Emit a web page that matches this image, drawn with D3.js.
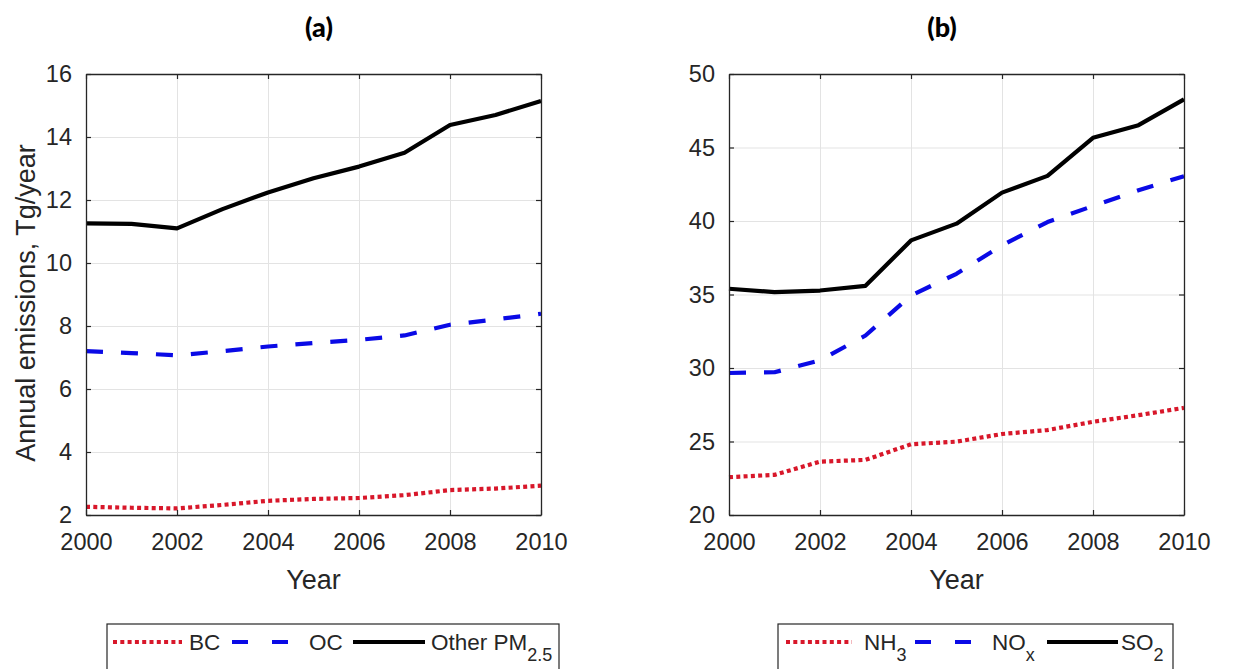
<!DOCTYPE html>
<html>
<head>
<meta charset="utf-8">
<script src="https://cdn.jsdelivr.net/npm/d3@7"></script>
<style>
  html, body { margin: 0; padding: 0; background: #fff; }
  svg { display: block; }
  text { font-family: "Liberation Sans", Arial, sans-serif; fill: #262626; }
</style>
</head>
<body>
<svg id="chart" width="1251" height="669"></svg>
<script>
// Annual emissions by year, 2000–2010
const years = [2000, 2001, 2002, 2003, 2004, 2005, 2006, 2007, 2008, 2009, 2010];

// Panel (a): particulate species, Tg/year
const bc      = [2.26, 2.23, 2.21, 2.32, 2.45, 2.51, 2.54, 2.63, 2.79, 2.84, 2.93];
const oc      = [7.20, 7.14, 7.07, 7.20, 7.35, 7.46, 7.56, 7.70, 8.04, 8.21, 8.39];
const otherPM = [11.26, 11.24, 11.10, 11.71, 12.24, 12.69, 13.06, 13.50, 14.38, 14.70, 15.14];

// Panel (b): gaseous precursors, Tg/year
const nh3 = [22.57, 22.73, 23.63, 23.75, 24.81, 24.99, 25.51, 25.78, 26.34, 26.79, 27.29];
const nox = [29.66, 29.71, 30.52, 32.21, 34.93, 36.41, 38.34, 39.93, 41.02, 42.09, 43.05];
const so2 = [35.39, 35.16, 35.27, 35.59, 38.68, 39.82, 41.93, 43.07, 45.66, 46.52, 48.27];

// Tick values
const xTicks  = [2000, 2002, 2004, 2006, 2008, 2010];
const yTicksA = [2, 4, 6, 8, 10, 12, 14, 16];
const yTicksB = [20, 25, 30, 35, 40, 45, 50];

const RED = "#d8172a", BLUE = "#0a0ae6", BLACK = "#000000";
const styles = {
  dotted: { color: RED,   width: 4.2, dash: "4,3.3" },
  dashed: { color: BLUE,  width: 4.2, dash: "17,18" },
  solid:  { color: BLACK, width: 4.2, dash: null }
};

const svg = d3.select("#chart");

function panel(cfg) {
  const { left, right, top, bottom } = cfg;
  const x = d3.scaleLinear().domain([2000, 2010]).range([left, right]);
  const y = d3.scaleLinear().domain(cfg.yDomain).range([bottom, top]);
  const g = svg.append("g");

  // grid
  g.append("g").attr("transform", `translate(0,${bottom})`)
    .call(d3.axisBottom(x).tickValues(xTicks).tickSize(-(bottom - top)).tickFormat(""))
    .call(a => a.select(".domain").remove())
    .call(a => a.selectAll("line").attr("stroke", "#e3e3e3").attr("stroke-width", 1));
  g.append("g").attr("transform", `translate(${left},0)`)
    .call(d3.axisLeft(y).tickValues(cfg.yTicks).tickSize(-(right - left)).tickFormat(""))
    .call(a => a.select(".domain").remove())
    .call(a => a.selectAll("line").attr("stroke", "#e3e3e3").attr("stroke-width", 1));

  // series
  cfg.series.forEach(s => {
    const st = styles[s.style];
    const line = d3.line().x((d, i) => x(years[i])).y(d => y(d));
    g.append("path").datum(s.values)
      .attr("d", line)
      .attr("fill", "none")
      .attr("stroke", st.color)
      .attr("stroke-width", st.width)
      .attr("stroke-linejoin", "round")
      .attr("stroke-dasharray", st.dash);
  });

  // box axes with inward ticks
  const axisStyle = a => {
    a.select(".domain").attr("stroke", "#262626").attr("stroke-width", 1.3);
    a.selectAll(".tick line").attr("stroke", "#262626").attr("stroke-width", 1.2);
  };
  g.append("g").attr("transform", `translate(0,${bottom})`)
    .call(d3.axisBottom(x).tickValues(xTicks).tickSizeInner(-5).tickSizeOuter(0).tickPadding(18).tickFormat(d3.format("d")))
    .call(axisStyle)
    .call(a => a.selectAll("text").attr("font-size", 23.5));
  g.append("g").attr("transform", `translate(0,${top})`)
    .call(d3.axisTop(x).tickValues(xTicks).tickSizeInner(-5).tickSizeOuter(0).tickFormat(""))
    .call(axisStyle);
  g.append("g").attr("transform", `translate(${left},0)`)
    .call(d3.axisLeft(y).tickValues(cfg.yTicks).tickSizeInner(-5).tickSizeOuter(0).tickPadding(14).tickFormat(d3.format("d")))
    .call(axisStyle)
    .call(a => a.selectAll("text").attr("font-size", 23.5));
  g.append("g").attr("transform", `translate(${right},0)`)
    .call(d3.axisRight(y).tickValues(cfg.yTicks).tickSizeInner(-5).tickSizeOuter(0).tickFormat(""))
    .call(axisStyle);

  // x label
  g.append("text").attr("x", (left + right) / 2).attr("y", 589)
    .attr("text-anchor", "middle").attr("font-size", 27).text("Year");

  // panel title
  g.append("text").attr("x", cfg.titleX).attr("y", 37)
    .attr("text-anchor", "middle")
    .style("font-family", "Lato, 'Open Sans', sans-serif")
    .style("font-weight", "900").style("font-size", "27px").style("fill", "#000")
    .text(cfg.title);

  // legend
  const L = cfg.legend;
  const lg = g.append("g");
  lg.append("rect").attr("x", L.x0).attr("y", 624).attr("width", L.x1 - L.x0).attr("height", 80)
    .attr("fill", "#fff").attr("stroke", "#262626").attr("stroke-width", 1.2);
  L.items.forEach((it, i) => {
    const st = styles[cfg.series[i].style];
    lg.append("line").attr("x1", it.l0).attr("x2", it.l1).attr("y1", 642).attr("y2", 642)
      .attr("stroke", st.color).attr("stroke-width", st.width)
      .attr("stroke-dasharray", cfg.series[i].style === "dashed" ? "16,24" : st.dash);
    const t = lg.append("text").attr("x", it.tx).attr("y", 650).attr("font-size", 22.5);
    t.append("tspan").text(it.label);
    if (it.sub) t.append("tspan").attr("dy", 11).attr("font-size", 18).text(it.sub);
  });
}

panel({
  left: 86, right: 541, top: 74, bottom: 515,
  yDomain: [2, 16], yTicks: yTicksA,
  title: "(a)", titleX: 319,
  series: [
    { values: bc, style: "dotted" },
    { values: oc, style: "dashed" },
    { values: otherPM, style: "solid" }
  ],
  legend: {
    x0: 107, x1: 559,
    items: [
      { l0: 113, l1: 182, tx: 189, label: "BC" },
      { l0: 232, l1: 290, tx: 309, label: "OC" },
      { l0: 353, l1: 425, tx: 431, label: "Other PM", sub: "2.5" }
    ]
  }
});

panel({
  left: 729, right: 1184, top: 74, bottom: 515,
  yDomain: [20, 50], yTicks: yTicksB,
  title: "(b)", titleX: 942,
  series: [
    { values: nh3, style: "dotted" },
    { values: nox, style: "dashed" },
    { values: so2, style: "solid" }
  ],
  legend: {
    x0: 778, x1: 1173,
    items: [
      { l0: 786, l1: 852, tx: 864, label: "NH", sub: "3" },
      { l0: 915, l1: 973, tx: 992, label: "NO", sub: "x" },
      { l0: 1047, l1: 1118, tx: 1121, label: "SO", sub: "2" }
    ]
  }
});

// shared y-axis label
svg.append("text")
  .attr("transform", "translate(35,303) rotate(-90)")
  .attr("text-anchor", "middle").attr("font-size", 27)
  .text("Annual emissions, Tg/year");
</script>
</body>
</html>
